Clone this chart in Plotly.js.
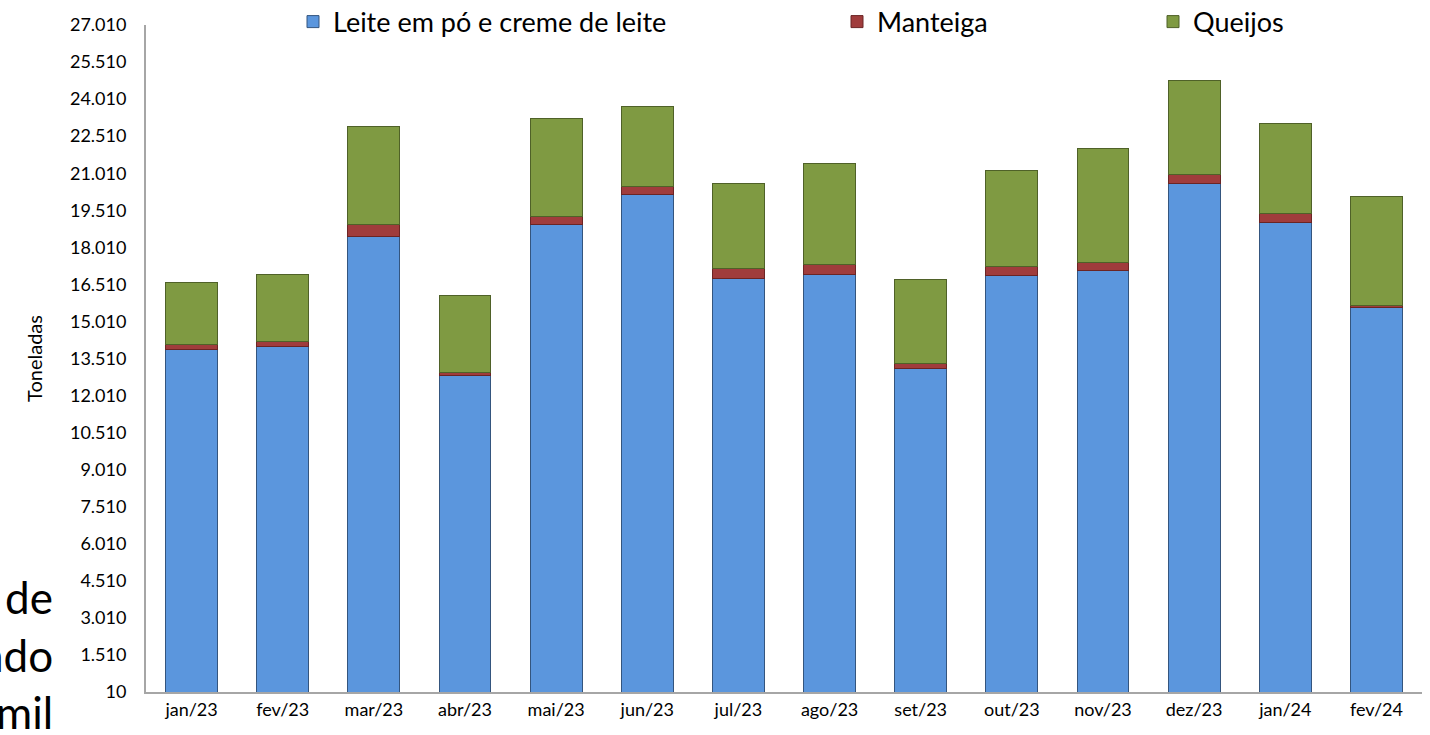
<!DOCTYPE html>
<html>
<head>
<meta charset="utf-8">
<script src="https://cdn.plot.ly/plotly-3.0.1.min.js"></script>
<style>
  body { margin: 0; background: #fff; }
  #chart { width: 1430px; height: 735px; }
</style>
</head>
<body>
<div id="chart"></div>
<script>
////////// data (toneladas)
var meses = ['jan/23', 'fev/23', 'mar/23', 'abr/23', 'mai/23', 'jun/23', 'jul/23',
             'ago/23', 'set/23', 'out/23', 'nov/23', 'dez/23', 'jan/24', 'fev/24']
var leite    = [13890, 13990, 18440, 12810, 18950, 20130, 16730, 16920, 13100, 16890, 17090, 20600, 19020, 15580]
var manteiga = [200, 200, 500, 120, 320, 340, 430, 400, 220, 340, 300, 340, 360, 90]
var queijos  = [2510, 2740, 3970, 3120, 3970, 3240, 3440, 4090, 3400, 3910, 4630, 3820, 3640, 4380]
var nomes = ['Leite em pó e creme de leite', 'Manteiga', 'Queijos']
var cores = ['#5B96DD', '#A03C3C', '#7F9A42']
var pedaco = ['de', 'ndo', 'mil']

//////////
var data = [
  { x: meses, y: leite, name: nomes[0], type: 'bar', legend: 'legend',
    marker: { color: cores[0], line: { color: '#34557e', width: 1 } } },
  { x: meses, y: manteiga, name: nomes[1], type: 'bar', legend: 'legend2',
    marker: { color: cores[1], line: { color: '#6b2424', width: 1 } } },
  { x: meses, y: queijos, name: nomes[2], type: 'bar', legend: 'legend3',
    marker: { color: cores[2], line: { color: '#4f6128', width: 1 } } }
]

////////// one legend per entry so they can sit apart (container coords, no margin push)
function leg(xp) {
  return { x: xp, xref: 'container', y: 0.970, yref: 'container',
           xanchor: 'left', yanchor: 'middle', orientation: 'h',
           font: { size: 27, color: '#000' }, bgcolor: 'rgba(0,0,0,0)' }
}

////////// cut off text on the left side
var notas = []
var ys = [0.142, 0.056, -0.030]
for (var i = 0; i < pedaco.length; i++) {
  notas.push({ text: pedaco[i], xref: 'paper', yref: 'paper', x: -0.0713, y: ys[i],
               xanchor: 'right', yanchor: 'middle', showarrow: false,
               font: { size: 44, color: '#000' } })
}

var layout = {
  font: { family: 'Lato, "Open Sans", sans-serif', color: '#000' },
  separators: ',.',
  barmode: 'stack',
  bargap: 0.43,
  margin: { l: 146, r: 8, t: 25, b: 43, autoexpand: false },
  paper_bgcolor: '#fff',
  plot_bgcolor: '#fff',
  showlegend: true,
  legend: leg(293 / 1430),
  legend2: leg(837 / 1430),
  legend3: leg(1153 / 1430),
  xaxis: { showline: true, linecolor: '#a6a6a6', linewidth: 2, ticks: '',
           tickfont: { size: 18 }, showgrid: false },
  yaxis: { range: [10, 27010], tick0: 10, dtick: 1500, tickformat: ',d',
           showline: true, linecolor: '#a6a6a6', linewidth: 2, ticks: '',
           showgrid: false, zeroline: false, tickfont: { size: 18 }, ticklabelstandoff: 14,
           title: { text: 'Toneladas', font: { size: 20, family: 'Lato, sans-serif' }, standoff: 22 } },
  annotations: notas
}

Plotly.newPlot('chart', data, layout, { displayModeBar: false })
</script>
</body>
</html>
